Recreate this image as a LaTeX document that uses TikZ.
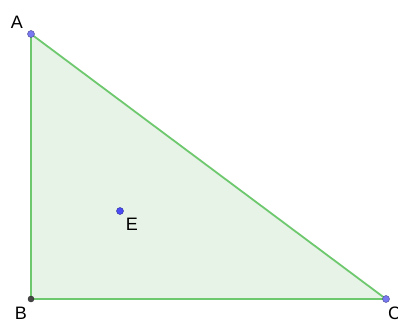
\documentclass[tikz,border=0pt]{standalone}
\usepackage{fontspec}
\setmainfont{Liberation Sans}
\begin{document}
\begin{tikzpicture}[x=1pt,y=-1pt,
  edge/.style={draw=edgegreen,line width=1.8pt},
  pt/.style={circle,inner sep=0pt,minimum size=7pt,fill=#1,draw=#1!60!black,line width=0.4pt},
  lbl/.style={font=\fontsize{18}{18}\selectfont,inner sep=0pt,text=black}]
\definecolor{edgegreen}{RGB}{110,200,110}
\definecolor{fillgreen}{RGB}{230,243,230}
\definecolor{ptblue}{RGB}{120,120,240}
\definecolor{ptdark}{RGB}{70,70,70}
\definecolor{eblue}{RGB}{75,75,245}
\useasboundingbox (0,0) rectangle (398,323);
\fill[white] (0,0) rectangle (398,323);
\coordinate (A) at (31,34);
\coordinate (B) at (31,299);
\coordinate (C) at (386,299);
\fill[fillgreen] (A) -- (B) -- (C) -- cycle;
\draw[edge] (A) -- (B) -- (C) -- cycle;
\node[pt=ptblue] (pA) at (A) {};
\node[pt=ptdark,minimum size=6pt] (pB) at (B) {};
\node[pt=ptblue] (pC) at (C) {};
\node[pt=eblue] (pE) at (120,211) {};
\node[lbl] (lA) at (17,22) {A};
\node[lbl] (lB) at (21,313) {B};
\node[lbl,anchor=west] (lC) at (388,313) {C};
\node[lbl] (lE) at (132,224) {E};
\end{tikzpicture}
\end{document}
